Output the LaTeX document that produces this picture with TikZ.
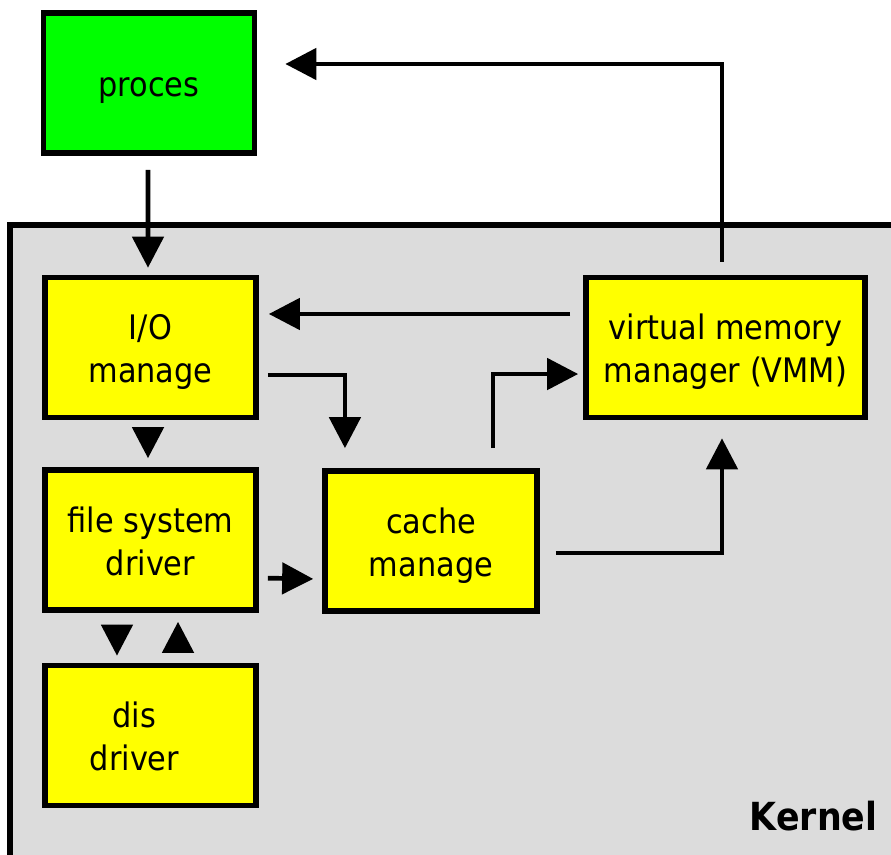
\documentclass[tikz,border=0pt]{standalone}
\usepackage{fontspec}
\setmainfont{DejaVu Sans Condensed}
\usetikzlibrary{arrows.meta}

\definecolor{kernelgray}{RGB}{220,220,220}
\definecolor{boxyellow}{RGB}{255,255,0}
\definecolor{procgreen}{RGB}{0,255,0}

\begin{document}
\begin{tikzpicture}[x=0.01cm, y=-0.01cm,
    tekst/.style={font=\fontsize{9.6}{12.2}\selectfont},
    eenregel/.style={execute at begin node={\rule{0pt}{0.34cm}},
      execute at end node={\rule[-0.08cm]{0pt}{0pt}}},
    tweeregels/.style={execute at begin node={\rule{0pt}{0.81cm}},
      execute at end node={\rule[-0.11cm]{0pt}{0pt}}},
    blok/.style={draw, line width=0.055cm, fill=boxyellow, minimum width=2.11cm,
      minimum height=1.40cm, align=center, inner sep=0pt, tekst},
    pijl/.style={line width=0.047cm, -{Triangle[length=0.31cm, width=0.31cm]}}]
  \clip (0,0) rectangle (891,854);
  % kernel area
  \draw[line width=0.06cm, fill=kernelgray] (10,225) rectangle (950,900);
  \node[font=\bfseries\fontsize{11}{14}\selectfont, anchor=base east, inner sep=0pt] (kernel) at (878,830) {Kernel};

  % blocks
  \node[blok, eenregel, fill=procgreen] (proces) at (149,83) {proces};
  \node[blok, tweeregels] (io) at (150.5,347.5) {I/O\\manage};
  \node[blok, tweeregels] (fs) at (150.5,540) {file system\\driver};
  \node[blok, label={[tekst, tweeregels, align=center, inner sep=0pt, xshift=-0.16cm]center:{dis\\driver}}] (dis) at (150.5,735.5) {};
  \node[blok, tweeregels, minimum width=2.12cm] (cache) at (431,541) {cache\\manage};
  \node[blok, tweeregels, minimum width=2.79cm] (vmm) at (725.5,347.5) {virtual memory\\manager (VMM)};

  % arrows
  \draw[pijl, shorten <=0.14cm, shorten >=0.07cm] ([xshift=-0.01cm]proces.south) -- ([xshift=-0.025cm]io.north);
  \draw[pijl, shorten <=0.13cm, shorten >=0.10cm] ([yshift=0.335cm]vmm.west) -- ([yshift=0.335cm]io.east);
  \draw[pijl, shorten <=0.08cm, shorten >=0.09cm] ([xshift=-0.025cm]io.south) -- ([xshift=-0.025cm]fs.north);
  \draw[pijl, shorten <=0.12cm, shorten >=0.07cm] ([xshift=-0.335cm]fs.south) -- ([xshift=-0.335cm]dis.north);
  \draw[pijl, shorten <=0.10cm, shorten >=0.09cm] ([xshift=0.275cm]dis.north) -- ([xshift=0.275cm]fs.south);
  \draw[pijl, shorten <=0.09cm, shorten >=0.09cm] ([yshift=-0.38cm]fs.east) -- ([yshift=-0.38cm]cache.west);
  \draw[pijl, shorten <=0.09cm, shorten >=0.2cm] ([yshift=-0.275cm]io.east) -| ([xshift=-0.86cm]cache.north);
  \draw[pijl, shorten <=0.2cm, shorten >=0.05cm] ([xshift=0.62cm]cache.north) |- ([yshift=-0.265cm]vmm.west);
  \draw[pijl, shorten <=0.16cm, shorten >=0.18cm] ([yshift=-0.12cm]cache.east) -| ([xshift=-0.035cm]vmm.south);
  \draw[pijl, shorten <=0.13cm, shorten >=0.28cm] ([xshift=-0.035cm]vmm.north) |- ([yshift=0.19cm]proces.east);
\end{tikzpicture}
\end{document}
